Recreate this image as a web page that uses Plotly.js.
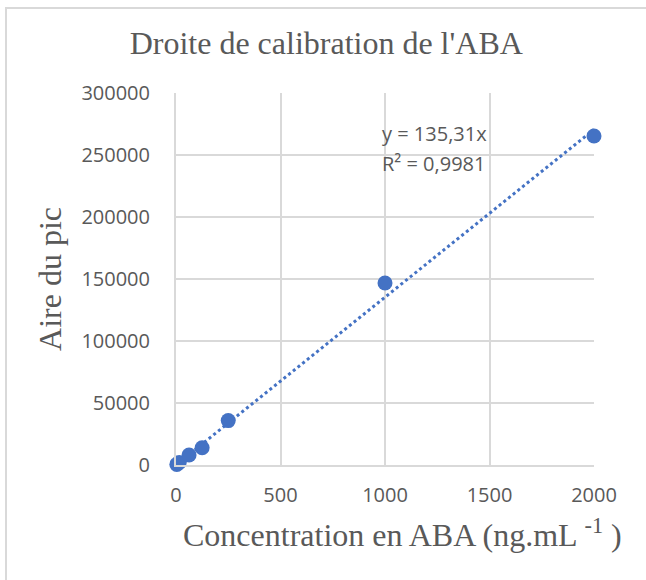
<!DOCTYPE html>
<html>
<head>
<meta charset="utf-8">
<script src="https://cdn.plot.ly/plotly-3.0.1.min.js"></script>
<style>
  html, body { margin: 0; padding: 0; background: #ffffff; }
  #wrap { position: relative; width: 646px; height: 580px; overflow: hidden; }
  #frame { position: absolute; left: 5px; top: 7px; width: 700px; height: 700px;
           border-left: 2px solid #d9d9d9; border-top: 2px solid #d9d9d9; }
  #chart { position: absolute; left: 0; top: 0; width: 646px; height: 580px; }
</style>
</head>
<body>
<div id="wrap">
  <div id="frame"></div>
  <div id="chart"></div>
</div>
<script>
// Data
const concentration = [3.9, 15.6, 62.5, 125, 250, 1000, 2000];   // ng.mL-1
const peakArea      = [500, 2100, 8100, 13900, 35800, 146800, 265300];

// Linear trendline through origin (y = 135,31x), drawn over 0..2000
const trendX = [0, 2000];
const trendY = [0, 270620];

const xTicks = [0, 500, 1000, 1500, 2000];
const yTicks = [0, 50000, 100000, 150000, 200000, 250000, 300000];

const equationText = "y = 135,31x";
const r2Text = "R² = 0,9981";
const xTitleText = "Concentration en ABA (ng.mL <sup>-1</sup> )";

const blue = "#4472C4";
const grey = "#595959";
const grid = "#d9d9d9";
const sans = "Open Sans, sans-serif";
const serif = "Liberation Serif, Times New Roman, serif";
const tickFont = { family: sans, size: 20, color: grey };

const traces = [
  {
    x: trendX, y: trendY, type: "scatter", mode: "lines",
    line: { color: blue, width: 3, dash: "dot" },
    cliponaxis: false,
    hoverinfo: "skip", showlegend: false
  },
  {
    x: concentration, y: peakArea, type: "scatter", mode: "markers",
    marker: { color: blue, size: 15 },
    cliponaxis: false,
    showlegend: false
  }
];

const layout = {
  width: 646, height: 580,
  margin: { l: 176, r: 52, t: 93, b: 115 },
  paper_bgcolor: "rgba(0,0,0,0)",
  plot_bgcolor: "#ffffff",
  showlegend: false,
  title: {
    text: "Droite de calibration de l'ABA",
    font: { family: serif, size: 32, color: grey },
    x: 0.505, xref: "container", xanchor: "center",
    y: 1 - 43 / 580, yref: "container", yanchor: "middle"
  },
  xaxis: {
    range: [0, 2000],
    tickvals: xTicks,
    ticktext: xTicks.map(String),
    showgrid: true, gridcolor: grid, gridwidth: 2,
    showline: true, linecolor: grid, linewidth: 2,
    zeroline: false, ticks: "",
    tickfont: tickFont,
    ticklabelstandoff: 11,
    fixedrange: true
  },
  yaxis: {
    range: [0, 300000],
    tickvals: yTicks,
    ticktext: yTicks.map(String),
    showgrid: true, gridcolor: grid, gridwidth: 2,
    showline: true, linecolor: grid, linewidth: 2,
    zeroline: false, ticks: "",
    tickfont: tickFont,
    ticklabelstandoff: 20,
    fixedrange: true,
    title: {
      text: "Aire du pic",
      font: { family: serif, size: 32, color: grey },
      standoff: 10
    }
  },
  annotations: [
    {
      text: xTitleText, x: 0.5, y: 0,
      xref: "paper", yref: "paper",
      xanchor: "center", yanchor: "middle", showarrow: false,
      font: { family: serif, size: 32, color: grey }
    },
    {
      text: equationText, x: 976, y: 267700, xref: "x", yref: "y",
      xanchor: "left", yanchor: "middle", showarrow: false,
      font: { family: sans, size: 20, color: grey }
    },
    {
      text: r2Text, x: 976, y: 243500, xref: "x", yref: "y",
      xanchor: "left", yanchor: "middle", showarrow: false,
      font: { family: sans, size: 20, color: grey }
    }
  ]
};

// Place the x-title annotation at its pixel position in paper fractions
const plotW = 646 - layout.margin.l - layout.margin.r;
const plotH = 580 - layout.margin.t - layout.margin.b;
layout.annotations[0].x = (402 - layout.margin.l) / plotW;
layout.annotations[0].y = (580 - layout.margin.b - 533) / plotH;

Plotly.newPlot("chart", traces, layout, { displayModeBar: false, staticPlot: true });
</script>
</body>
</html>
